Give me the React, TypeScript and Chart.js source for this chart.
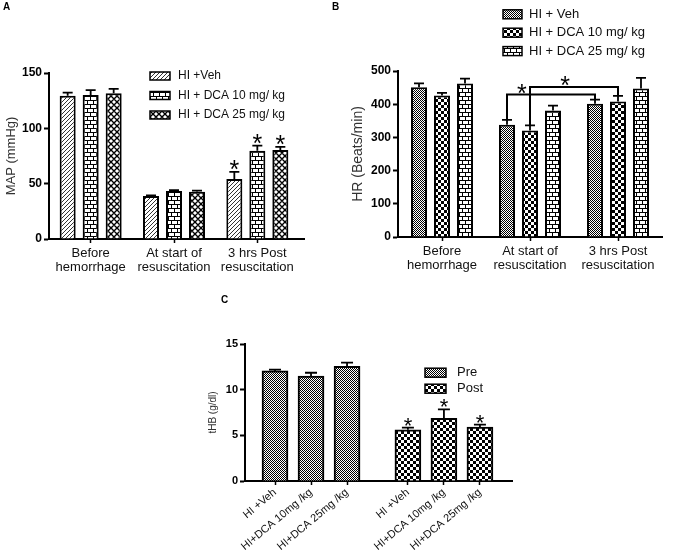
import React, { useEffect, useRef } from 'react';
import { Chart, registerables } from 'chart.js';

Chart.register(...registerables);

const FONT = "'Liberation Sans', Arial, sans-serif";

// ---------------- Panel A : MAP ----------------
const categoriesA = [['Before', 'hemorrhage'], ['At start of', 'resuscitation'], ['3 hrs Post', 'resuscitation']];
const seriesA = ['HI +Veh', 'HI + DCA 10 mg/ kg', 'HI + DCA 25 mg/ kg'];
const mapVeh = [129.5, 38.9, 54.2];
const mapVehErr = [2.7, 0.5, 6.5];
const mapVehSig = [false, false, true];
const mapDca10 = [130.1, 43.4, 79.8];
const mapDca10Err = [4.5, 0.8, 4.5];
const mapDca10Sig = [false, false, true];
const mapDca25 = [131.6, 42.8, 80.4];
const mapDca25Err = [4.0, 1.0, 2.8];
const mapDca25Sig = [false, false, true];
const yTicksA = [0, 50, 100, 150];

// ---------------- Panel B : HR ----------------
const categoriesB = [['Before', 'hemorrhage'], ['At start of', 'resuscitation'], ['3 hrs Post', 'resuscitation']];
const seriesB = ['HI + Veh', 'HI + DCA 10 mg/ kg', 'HI + DCA 25 mg/ kg'];
const hrVeh = [451, 338, 401];
const hrVehErr = [12, 15, 13];
const hrDca10 = [426, 321, 408];
const hrDca10Err = [8, 15, 17];
const hrDca25 = [462, 381, 447];
const hrDca25Err = [15, 15, 32];
const yTicksB = [0, 100, 200, 300, 400, 500];
// significance brackets: series index, from category, to category, bracket level (beats/min)
const bracketsB = [
  { series: 0, from: 1, to: 2, level: 429 },
  { series: 1, from: 1, to: 2, level: 452 },
];

// ---------------- Panel C : tHB ----------------
const categoriesC = ['HI +Veh', 'HI+DCA 10mg /kg', 'HI+DCA 25mg /kg'];
const seriesC = ['Pre', 'Post'];
const hbPre = [12.05, 11.5, 12.55];
const hbPreErr = [0.15, 0.35, 0.4];
const hbPreSig = [false, false, false];
const hbPost = [5.6, 6.85, 5.9];
const hbPostErr = [0.25, 1.0, 0.27];
const hbPostSig = [true, true, true];
const yTicksC = [0, 5, 10, 15];

// ---------------- patterns ----------------
function makePattern(kind: string): CanvasPattern {
  const c = document.createElement('canvas');
  const g = c.getContext('2d') as CanvasRenderingContext2D;
  const set = (w: number, h: number) => {
    c.width = w;
    c.height = h;
    g.fillStyle = '#fff';
    g.fillRect(0, 0, w, h);
    g.fillStyle = '#000';
    g.strokeStyle = '#000';
  };
  switch (kind) {
    case 'hatch':
      set(4, 4);
      g.strokeStyle = '#333';
      g.lineWidth = 1;
      g.beginPath();
      g.moveTo(-1, 5); g.lineTo(5, -1);
      g.moveTo(-1, 1); g.lineTo(1, -1);
      g.moveTo(3, 5); g.lineTo(5, 3);
      g.stroke();
      break;
    case 'brick':
      set(6, 8);
      g.fillRect(0, 0, 6, 1);
      g.fillRect(0, 4, 6, 1);
      g.fillRect(0, 0, 1, 4);
      g.fillRect(3, 4, 1, 4);
      break;
    case 'lattice':
      set(6, 6);
      g.lineWidth = 1.4;
      g.beginPath();
      g.moveTo(0, 3); g.lineTo(3, 0); g.lineTo(6, 3); g.lineTo(3, 6); g.closePath();
      g.stroke();
      break;
    case 'fine':
      set(2, 2);
      g.fillRect(0, 0, 1, 1);
      g.fillRect(1, 1, 1, 1);
      break;
    case 'check':
    default:
      set(6, 6);
      g.fillRect(0, 0, 3, 3);
      g.fillRect(3, 3, 3, 3);
      break;
  }
  return g.createPattern(c, 'repeat') as CanvasPattern;
}

function drawStar(ctx: CanvasRenderingContext2D, cx: number, cy: number, size: number) {
  ctx.save();
  ctx.font = `${size}px ${FONT}`;
  ctx.fillStyle = '#000';
  ctx.textAlign = 'center';
  ctx.textBaseline = 'alphabetic';
  const m = ctx.measureText('*');
  const asc = m.actualBoundingBoxAscent;
  const desc = m.actualBoundingBoxDescent;
  ctx.fillText('*', cx, cy + (asc - desc) / 2);
  ctx.restore();
}

function valueOf(d: any): number {
  return typeof d === 'number' ? d : d.y;
}

const decorPlugin = {
  id: 'decor',
  afterDatasetsDraw(chart: any, _args: any, opts: any) {
    const ctx: CanvasRenderingContext2D = chart.ctx;
    const yScale = chart.scales.y;
    const area = chart.chartArea;
    ctx.save();
    if (opts.extendX) {
      ctx.strokeStyle = '#000';
      ctx.lineWidth = 2;
      ctx.beginPath();
      ctx.moveTo(area.right - 1, area.bottom);
      ctx.lineTo(area.right + opts.extendX, area.bottom);
      ctx.stroke();
    }
    chart.data.datasets.forEach((ds: any, di: number) => {
      const meta = chart.getDatasetMeta(di);
      meta.data.forEach((bar: any, i: number) => {
        const v = valueOf(ds.data[i]);
        const e = ds.errors[i];
        const yTop = yScale.getPixelForValue(v);
        const yErr = yScale.getPixelForValue(v + e);
        ctx.strokeStyle = '#000';
        ctx.lineWidth = opts.errWidth;
        ctx.beginPath();
        ctx.moveTo(bar.x, yTop);
        ctx.lineTo(bar.x, yErr);
        ctx.moveTo(bar.x - opts.cap / 2, yErr);
        ctx.lineTo(bar.x + opts.cap / 2, yErr);
        ctx.stroke();
        if (ds.sig && ds.sig[i]) drawStar(ctx, bar.x, yErr - opts.starGap, opts.starSize);
      });
    });
    (opts.brackets || []).forEach((b: any, k: number) => {
      const meta = chart.getDatasetMeta(b.series);
      const ds = chart.data.datasets[b.series];
      const p1 = meta.data[b.from];
      const p2 = meta.data[b.to];
      const yl = yScale.getPixelForValue(b.level);
      const y1 = yScale.getPixelForValue(valueOf(ds.data[b.from]) + ds.errors[b.from]);
      const y2 = yScale.getPixelForValue(valueOf(ds.data[b.to]) + ds.errors[b.to]);
      ctx.strokeStyle = '#000';
      ctx.lineWidth = 2;
      ctx.lineJoin = 'miter';
      ctx.beginPath();
      ctx.moveTo(p1.x, y1);
      ctx.lineTo(p1.x, yl);
      ctx.lineTo(p2.x, yl);
      ctx.lineTo(p2.x, y2);
      ctx.stroke();
      const f = opts.starAt[k];
      drawStar(ctx, p1.x + (p2.x - p1.x) * f, yl - opts.bracketStarGap, opts.starSize);
    });
    const lg = opts.legend;
    if (lg) {
      chart.data.datasets.forEach((ds: any, i: number) => {
        const cy = lg.y + i * lg.dy;
        ctx.fillStyle = ds.backgroundColor;
        ctx.fillRect(lg.x, cy - lg.h / 2, lg.w, lg.h);
        ctx.strokeStyle = '#000';
        ctx.lineWidth = 1.5;
        ctx.strokeRect(lg.x, cy - lg.h / 2, lg.w, lg.h);
        ctx.fillStyle = '#111';
        ctx.font = `${lg.size}px ${FONT}`;
        ctx.textAlign = 'left';
        ctx.textBaseline = 'middle';
        ctx.fillText(ds.label, lg.textX, cy);
      });
    }
    ctx.restore();
  },
};

function yAxis(ticks: number[], width: number, title: string, titleSize: number, tickSize: number) {
  return {
    min: ticks[0],
    max: ticks[ticks.length - 1],
    afterBuildTicks: (s: any) => {
      s.ticks = ticks.map((v) => ({ value: v }));
    },
    afterFit: (s: any) => {
      s.width = width;
    },
    border: { display: true, color: '#000', width: 2 },
    grid: { display: true, drawOnChartArea: false, drawTicks: true, tickLength: 5, tickColor: '#000', tickWidth: 2 },
    ticks: { color: '#000', font: { family: FONT, size: tickSize, weight: 'bold' }, padding: 2 },
    title: { display: true, text: title, color: '#333', font: { family: FONT, size: titleSize }, padding: 4 },
  };
}

function xCatAxis(height: number, size: number) {
  return {
    type: 'category',
    afterFit: (s: any) => {
      s.height = height;
    },
    border: { display: true, color: '#000', width: 2 },
    grid: { display: true, offset: false, drawOnChartArea: false, drawTicks: true, tickLength: 4, tickColor: '#000', tickWidth: 1.5 },
    ticks: { color: '#111', font: { family: FONT, size, lineHeight: 1.1 }, padding: 3, maxRotation: 0, autoSkip: false },
  };
}

export default function App() {
  const refA = useRef<HTMLCanvasElement>(null);
  const refB = useRef<HTMLCanvasElement>(null);
  const refC = useRef<HTMLCanvasElement>(null);

  useEffect(() => {
    const pHatch = makePattern('hatch');
    const pBrick = makePattern('brick');
    const pLattice = makePattern('lattice');
    const pFine = makePattern('fine');
    const pCheck = makePattern('check');

    const barStyle = { borderColor: '#000', borderWidth: 2, borderSkipped: 'bottom' };

    const chartA = new Chart(refA.current as HTMLCanvasElement, {
      type: 'bar',
      data: {
        labels: categoriesA,
        datasets: [
          { label: seriesA[0], data: mapVeh, errors: mapVehErr, sig: mapVehSig, backgroundColor: pHatch, ...barStyle },
          { label: seriesA[1], data: mapDca10, errors: mapDca10Err, sig: mapDca10Sig, backgroundColor: pBrick, ...barStyle },
          { label: seriesA[2], data: mapDca25, errors: mapDca25Err, sig: mapDca25Sig, backgroundColor: pLattice, ...barStyle },
        ] as any,
      },
      options: {
        responsive: false,
        animation: false,
        devicePixelRatio: 1,
        layout: { padding: { left: 0, top: 73, right: 31, bottom: 0 } },
        datasets: { bar: { categoryPercentage: 0.828, barPercentage: 0.696 } },
        scales: {
          x: xCatAxis(41, 13) as any,
          y: yAxis(yTicksA, 49, 'MAP (mmHg)', 13, 12) as any,
        },
        plugins: {
          legend: { display: false },
          tooltip: { enabled: false },
          decor: {
            extendX: 6,
            errWidth: 1.8,
            cap: 10,
            starGap: 7,
            starSize: 25,
            legend: { x: 150, y: 76, dy: 19.5, w: 20, h: 8, textX: 178, size: 12 },
          },
        } as any,
      },
      plugins: [decorPlugin],
    });

    const chartB = new Chart(refB.current as HTMLCanvasElement, {
      type: 'bar',
      data: {
        labels: categoriesB,
        datasets: [
          { label: seriesB[0], data: hrVeh, errors: hrVehErr, backgroundColor: pFine, ...barStyle },
          { label: seriesB[1], data: hrDca10, errors: hrDca10Err, backgroundColor: pCheck, ...barStyle },
          { label: seriesB[2], data: hrDca25, errors: hrDca25Err, backgroundColor: pBrick, ...barStyle },
        ] as any,
      },
      options: {
        responsive: false,
        animation: false,
        devicePixelRatio: 1,
        layout: { padding: { left: 16, top: 71, right: 13, bottom: 0 } },
        datasets: { bar: { categoryPercentage: 0.784, barPercentage: 0.696 } },
        scales: {
          x: xCatAxis(43, 13) as any,
          y: yAxis(yTicksB, 52, 'HR (Beats/min)', 14, 12) as any,
        },
        plugins: {
          legend: { display: false },
          tooltip: { enabled: false },
          decor: {
            errWidth: 1.8,
            cap: 10,
            starGap: 7,
            starSize: 25,
            brackets: bracketsB,
            starAt: [0.17, 0.4],
            bracketStarGap: 6,
            legend: { x: 173, y: 14.3, dy: 18.4, w: 19, h: 9, textX: 199, size: 13 },
          },
        } as any,
      },
      plugins: [decorPlugin],
    });

    const GAP_C = 0.69; // extra spacing between Pre and Post groups
    const posPre = hbPre.map((_, i) => i + 1);
    const posPost = hbPost.map((_, i) => i + 4 + GAP_C);
    const labelsC = [...categoriesC, ...categoriesC];

    const chartC = new Chart(refC.current as HTMLCanvasElement, {
      type: 'bar',
      data: {
        datasets: [
          {
            label: seriesC[0],
            data: hbPre.map((v, i) => ({ x: posPre[i], y: v })),
            errors: hbPreErr,
            sig: hbPreSig,
            backgroundColor: pFine,
            barThickness: 26,
            grouped: false,
            ...barStyle,
          },
          {
            label: seriesC[1],
            data: hbPost.map((v, i) => ({ x: posPost[i], y: v })),
            errors: hbPostErr,
            sig: hbPostSig,
            backgroundColor: pCheck,
            barThickness: 26,
            grouped: false,
            ...barStyle,
          },
        ] as any,
      },
      options: {
        responsive: false,
        animation: false,
        devicePixelRatio: 1,
        layout: { padding: { left: 3, top: 54, right: 18, bottom: 0 } },
        scales: {
          x: {
            type: 'linear',
            offset: false,
            min: 0.167,
            max: 7.58,
            afterBuildTicks: (s: any) => {
              s.ticks = [...posPre, ...posPost].map((v) => ({ value: v }));
            },
            afterFit: (s: any) => {
              s.height = 75;
            },
            border: { display: true, color: '#000', width: 2 },
            grid: { display: true, offset: false, drawOnChartArea: false, drawTicks: true, tickLength: 4, tickColor: '#000', tickWidth: 1.5 },
            ticks: {
              color: '#111',
              font: { family: FONT, size: 11 },
              padding: 1,
              minRotation: 40,
              maxRotation: 40,
              autoSkip: false,
              callback: (_v: any, i: number) => labelsC[i],
            },
          } as any,
          y: yAxis(yTicksC, 42, 'tHB (g/dl)', 10, 11) as any,
        },
        plugins: {
          legend: { display: false },
          tooltip: { enabled: false },
          decor: {
            errWidth: 1.8,
            cap: 12,
            starGap: 6,
            starSize: 22,
            legend: { x: 225, y: 82.7, dy: 16, w: 21, h: 9, textX: 257, size: 13 },
          },
        } as any,
      },
      plugins: [decorPlugin],
    });

    return () => {
      chartA.destroy();
      chartB.destroy();
      chartC.destroy();
    };
  }, []);

  const lbl = (left: number, top: number): React.CSSProperties => ({
    position: 'absolute',
    left,
    top,
    font: `bold 10px ${FONT}`,
    lineHeight: '10px',
    color: '#000',
  });

  return (
    <div style={{ position: 'fixed', left: 0, top: 0, width: 675, height: 556, background: '#fff', overflow: 'hidden' }}>
      <canvas ref={refA} width={330} height={280} style={{ position: 'absolute', left: 0, top: 0, display: 'block' }} />
      <canvas ref={refB} width={345} height={280} style={{ position: 'absolute', left: 330, top: 0, display: 'block' }} />
      <canvas ref={refC} width={330} height={266} style={{ position: 'absolute', left: 200, top: 290, display: 'block' }} />
      <div style={lbl(3, 2)}>A</div>
      <div style={lbl(332, 2)}>B</div>
      <div style={lbl(221, 295)}>C</div>
    </div>
  );
}
